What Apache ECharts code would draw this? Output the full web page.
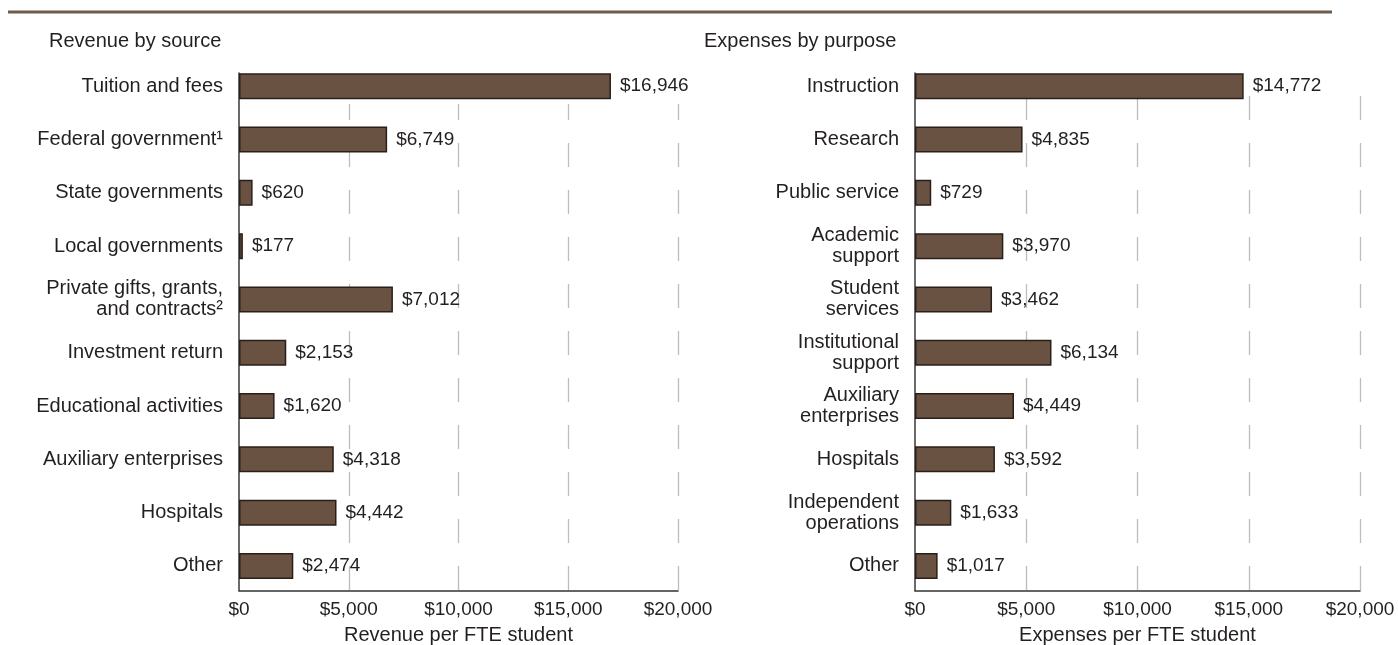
<!DOCTYPE html>
<html>
<head>
<meta charset="utf-8">
<style>
  html, body { margin: 0; padding: 0; background: #ffffff; }
  #chart { width: 1398px; height: 645px; }
</style>
<script src="https://cdn.jsdelivr.net/npm/echarts@6/dist/echarts.min.js"></script>
</head>
<body>
<div id="chart"></div>
<script>
// Revenue per FTE student, by source
const revenueCategories = [
  'Tuition and fees',
  'Federal government¹',
  'State governments',
  'Local governments',
  'Private gifts, grants,\nand contracts²',
  'Investment return',
  'Educational activities',
  'Auxiliary enterprises',
  'Hospitals',
  'Other'
];
const revenueValues = [16946, 6749, 620, 177, 7012, 2153, 1620, 4318, 4442, 2474];

// Expenses per FTE student, by purpose
const expenseCategories = [
  'Instruction',
  'Research',
  'Public service',
  'Academic\nsupport',
  'Student\nservices',
  'Institutional\nsupport',
  'Auxiliary\nenterprises',
  'Hospitals',
  'Independent\noperations',
  'Other'
];
const expenseValues = [14772, 4835, 729, 3970, 3462, 6134, 4449, 3592, 1633, 1017];

// Shared value axis
const axisMin = 0;
const axisMax = 20000;
const axisStep = 5000;

const panelTitles = ['Revenue by source', 'Expenses by purpose'];
const axisNames = ['Revenue per FTE student', 'Expenses per FTE student'];

const FONT = "'Liberation Sans', Arial, sans-serif";
const TEXT = '#231f20';
const BAR_FILL = '#6a5243';
const BAR_EDGE = '#2a1f18';
const money = v => '$' + Number(v).toLocaleString('en-US');

// Horizontal placement of each panel
const panels = [
  { left: 239, right: 720, gridTop: 104, dashOffset: 8 },
  { left: 915, right: 38, gridTop: 96, dashOffset: 0 }
];

const grids = [];
const xAxes = [];
const yAxes = [];
const series = [];

panels.forEach((p, i) => {
  const cats = i === 0 ? revenueCategories : expenseCategories;
  const vals = i === 0 ? revenueValues : expenseValues;
  const base = grids.length;
  const common = { left: p.left, right: p.right, outerBoundsMode: 'none', containLabel: false };

  // bars
  grids.push(Object.assign({ top: 59.6, bottom: 52.4 }, common));
  // axis lines + tick labels
  grids.push(Object.assign({ top: 73, bottom: 54.5 }, common));
  // dashed gridlines
  grids.push(Object.assign({ top: p.gridTop, bottom: 54.5 }, common));

  xAxes.push({
    gridIndex: base, type: 'value', min: axisMin, max: axisMax, interval: axisStep, show: false
  });
  yAxes.push({
    gridIndex: base, type: 'category', data: cats, inverse: true,
    axisLine: { show: false }, axisTick: { show: false }, splitLine: { show: false },
    axisLabel: {
      margin: 16, fontFamily: FONT, fontSize: 20, lineHeight: 21, color: TEXT, align: 'right'
    }
  });

  xAxes.push({
    gridIndex: base + 1, type: 'value', min: axisMin, max: axisMax, interval: axisStep,
    axisLine: { show: true, lineStyle: { color: '#333333', width: 1.6 } },
    axisTick: { show: false },
    splitLine: { show: false },
    axisLabel: {
      margin: 10, fontFamily: FONT, fontSize: 19, color: TEXT,
      formatter: money
    },
    name: axisNames[i], nameLocation: 'middle', nameGap: 35,
    nameTextStyle: { fontFamily: FONT, fontSize: 20, color: TEXT }
  });
  yAxes.push({
    gridIndex: base + 1, type: 'value', min: 0, max: 1,
    axisLine: { show: true, lineStyle: { color: '#444444', width: 1.6 } },
    axisTick: { show: false }, axisLabel: { show: false }, splitLine: { show: false }
  });

  xAxes.push({
    gridIndex: base + 2, type: 'value', min: axisMin, max: axisMax, interval: axisStep,
    axisLine: { show: false }, axisTick: { show: false }, axisLabel: { show: false },
    splitLine: {
      show: true, showMinLine: false,
      lineStyle: { color: '#bdbdbd', width: 1.3, type: [24, 23], dashOffset: p.dashOffset }
    }
  });
  yAxes.push({
    gridIndex: base + 2, type: 'value', min: 0, max: 1, show: false
  });

  series.push({
    type: 'bar',
    xAxisIndex: base, yAxisIndex: base,
    data: vals,
    barWidth: 26,
    z: 3,
    itemStyle: { color: BAR_FILL, borderColor: BAR_EDGE, borderWidth: 1.5 },
    label: {
      show: true, position: 'right', distance: 9,
      fontFamily: FONT, fontSize: 19, color: TEXT,
      formatter: d => money(d.value)
    },
    emphasis: { disabled: true },
    animation: false
  });
});

const chart = echarts.init(document.getElementById('chart'), null, { renderer: 'canvas' });
chart.setOption({
  backgroundColor: '#ffffff',
  animation: false,
  title: [
    { text: panelTitles[0], left: 49, top: 31, padding: 0,
      textStyle: { fontFamily: FONT, fontSize: 20, fontWeight: 'normal', color: TEXT } },
    { text: panelTitles[1], left: 704, top: 31, padding: 0,
      textStyle: { fontFamily: FONT, fontSize: 20, fontWeight: 'normal', color: TEXT } }
  ],
  graphic: [
    { type: 'line', shape: { x1: 8, y1: 12, x2: 1332, y2: 12 },
      style: { stroke: '#6d5c4f', lineWidth: 3 }, silent: true }
  ],
  grid: grids,
  xAxis: xAxes,
  yAxis: yAxes,
  series: series
});
</script>
</body>
</html>
